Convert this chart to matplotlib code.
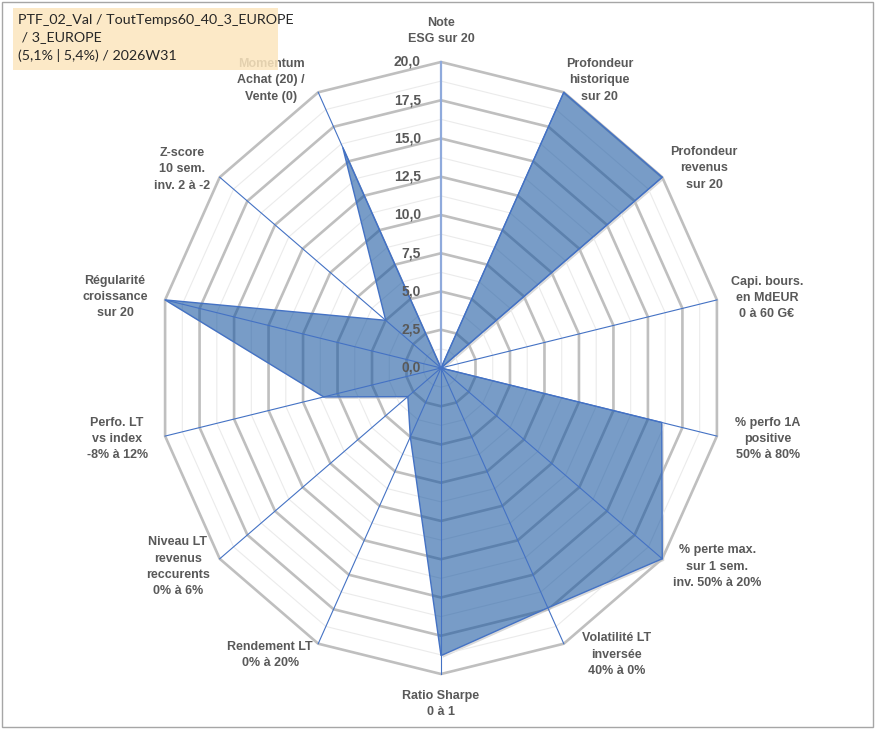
import numpy as np
import matplotlib
matplotlib.use("Agg")
import matplotlib.pyplot as plt
import matplotlib.transforms as mtransforms
from matplotlib.patches import Polygon, Rectangle

# axis labels, clockwise from the top
categories = [
    "Note\nESG sur 20",
    "Profondeur\nhistorique\nsur 20",
    "Profondeur\nrevenus\nsur 20",
    "Capi. bours.\nen MdEUR\n0 à 60 G€",
    "% perfo 1A\npositive\n50% à 80%",
    "% perte max.\nsur 1 sem.\ninv. 50% à 20%",
    "Volatilité LT\ninversée\n40% à 0%",
    "Ratio Sharpe\n0 à 1",
    "Rendement LT\n0% à 20%",
    "Niveau LT\nrevenus\nreccurents\n0% à 6%",
    "Perfo. LT\nvs index\n-8% à 12%",
    "Régularité\ncroissance\nsur 20",
    "Z-score\n10 sem.\ninv. 2 à -2",
    "Momentum\nAchat (20) /\nVente (0)",
]
values = [0, 20, 20, 0, 16, 20, 17.4, 18.8, 5, 3, 8.5, 20, 5, 16]
ticks = [0, 2.5, 5, 7.5, 10, 12.5, 15, 17.5, 20]
title = "PTF_02_Val / ToutTemps60_40_3_EUROPE\n / 3_EUROPE\n(5,1% | 5,4%) / 2026W31"

# label nudges in pixels (right, up) from the outer vertex
label_offsets = [(0, 31), (36, 12), (42, 9), (50, 2), (51, -3), (55, -8), (53, -11),
                 (0, -30), (-48, -11), (-42, -8), (-48, -3), (-50, 3), (-38, 8), (-47, 12)]

plt.rcParams["font.family"] = ["Liberation Sans", "DejaVu Sans"]

n = len(categories)
theta = np.arange(n) * 2 * np.pi / n
sx, sy = np.sin(theta), np.cos(theta)


def ring(r):
    return np.column_stack([r * sx, r * sy])


fig = plt.figure(figsize=(8.75, 7.29), dpi=100)
ax = fig.add_axes([0, 0, 1, 1])
ax.set_xlim(-441 / 14.15, 434 / 14.15)
ax.set_ylim(-361 / 15.3, 368 / 15.3)
ax.axis("off")

# minor and major grid rings
for r in np.arange(1.25, 20, 2.5):
    ax.add_patch(Polygon(ring(r), closed=True, fill=False, ec="#EBEBEB", lw=0.8, zorder=1))
for r in ticks[1:]:
    ax.add_patch(Polygon(ring(r), closed=True, fill=False, ec="#BFBFBF", lw=1.9, zorder=2))

# data polygon with a soft outer shadow
pts = ring(np.array(values))
shadow_tr = mtransforms.offset_copy(ax.transData, fig=fig, x=2, y=-2, units="dots")
ax.add_patch(Polygon(pts, closed=True, fc="#000000", alpha=0.15, ec="none",
                     transform=shadow_tr, zorder=0.5))
ax.add_patch(Polygon(pts, closed=True, fc="white", ec="none", zorder=0.6))
ax.add_patch(Polygon(pts, closed=True, fc="#1655A0", alpha=0.58, ec="none", zorder=3))
ax.add_patch(Polygon(pts, closed=True, fill=False, ec="#4472C4", lw=1.0, zorder=3.5))

# spokes
for k in range(n):
    if k == 0:
        ax.plot([0, 0], [0, 20], color="#8FAADC", lw=1.6, zorder=4)
    else:
        ax.plot([0, 20 * sx[k]], [0, 20 * sy[k]], color="#4472C4", lw=0.8, zorder=4)

# tick labels
for t in ticks:
    ax.annotate(("%.1f" % t).replace(".", ","), xy=(0, t), xytext=(-20, 0),
                textcoords="offset pixels", ha="right", va="center",
                fontsize=10, fontweight="bold", color="#595959", zorder=5)

# category labels
for k, lab in enumerate(categories):
    ax.annotate(lab, xy=(20 * sx[k], 20 * sy[k]), xytext=label_offsets[k],
                textcoords="offset pixels", ha="center", va="center",
                multialignment="center", fontsize=9, fontweight="bold",
                color="#595959", linespacing=1.48, zorder=5)

# title box
fig.patches.append(Rectangle((13 / 875, 1 - 70 / 729), 265 / 875, 62 / 729,
                             transform=fig.transFigure, fc="#FCE6BE", ec="none",
                             alpha=0.85, zorder=10))
fig.text(18 / 875, 1 - 14 / 729, title, ha="left", va="top", fontsize=10.3,
         family=["Lato", "DejaVu Sans"], color="#262626", linespacing=1.5, zorder=11)

# outer frame
fig.patches.append(Rectangle((0.002, 0.003), 0.996, 0.994, transform=fig.transFigure,
                             fill=False, ec="#A6A6A6", lw=1.0))

fig.savefig("out.png", dpi=100)
